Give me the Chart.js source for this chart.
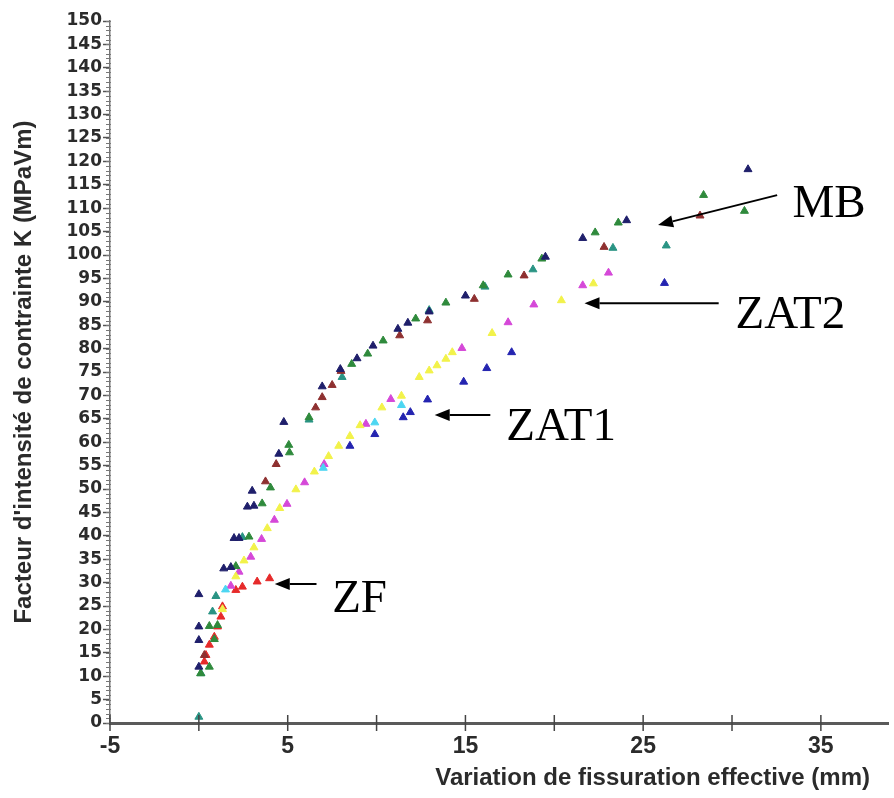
<!DOCTYPE html>
<html>
<head>
<meta charset="utf-8">
<script src="https://cdn.jsdelivr.net/npm/chart.js@4"></script>
<style>
  html, body { margin: 0; padding: 0; background: #fff; }
  #wrap { width: 894px; height: 798px; }
</style>
</head>
<body>
<div id="wrap"><canvas id="kChart" width="894" height="798"></canvas></div>
<script>
// [fissuration (mm), K (MPa√m)]
const mbNavy = [[0,12],[0,17.7],[0,20.6],[0,27.5],[1.4,33],[1.8,33.3],[1.98,39.5],[2.26,39.5],[2.73,46.2],[3.1,46.4],[3.0,49.6],[4.5,57.5],[4.78,64.3],[6.94,71.9],[7.96,75.6],[8.9,77.9],[9.8,80.6],[11.2,84.2],[11.76,85.5],[12.96,87.9],[15.0,91.3],[19.5,99.6],[21.6,103.6],[24.07,107.4],[30.9,118.3]];
const mbGreen = [[0.1,10.6],[0.59,12],[0.87,17.9],[0.59,20.7],[1.05,20.9],[2.08,33.5],[2.82,39.8],[3.56,46.9],[4.03,50.3],[5.1,57.8],[5.06,59.4],[6.2,65.3],[8.6,76.7],[9.5,78.9],[10.37,81.7],[12.2,86.4],[13.9,89.8],[16.0,93.5],[17.4,95.8],[19.3,99.2],[22.3,104.8],[23.6,106.9],[28.4,112.8],[30.7,109.4]];
const mbDarkRed = [[0.31,14.5],[3.75,51.6],[4.35,55.3],[6.57,67.4],[6.94,69.6],[7.5,72.2],[8.0,75.2],[11.3,82.8],[12.87,86],[15.5,90.6],[18.3,95.6],[22.8,101.7],[28.2,108.4]];
const mbTeal = [[0,1.3],[0.12,10.6],[0.77,23.8],[0.96,27.1],[2.45,39.7],[6.2,64.8],[8.06,73.9],[12.96,88.2],[16.1,93.2],[18.8,96.9],[23.3,101.5],[26.3,102]];
const zat1Blue = [[8.5,59.2],[9.9,61.7],[11.5,65.3],[11.9,66.4],[12.87,69.1],[14.9,72.9],[16.2,75.8],[17.6,79.2],[26.2,94.0]];
const zat1Cyan = [[1.5,28.5],[7.0,54.5],[9.9,64.2],[11.4,67.9]];
const zat2Yellow = [[1.33,24.3],[2.08,31.3],[2.54,34.7],[3.1,37.5],[3.85,41.6],[4.55,45.9],[5.46,49.9],[6.5,53.7],[7.3,57],[7.87,59.2],[8.5,61.3],[9.07,63.6],[10.3,67.4],[11.4,69.9],[12.4,73.9],[12.96,75.3],[13.4,76.4],[13.9,77.8],[14.26,79.2],[16.5,83.3],[20.4,90.3],[22.2,93.9]];
const zat2Magenta = [[1.8,29.3],[2.26,32.3],[2.92,35.5],[3.53,39.3],[4.25,43.4],[4.96,46.8],[5.95,51.4],[7.05,55.3],[9.4,63.9],[10.8,69.2],[14.8,80.1],[17.4,85.6],[18.85,89.4],[21.6,93.5],[23.05,96.2]];
const zfRed = [[0.31,13.1],[0.4,14.5],[0.59,16.7],[0.87,18.4],[1.05,20.6],[1.24,22.7],[1.33,24.9],[2.08,28.4],[2.45,29.1],[3.28,30.2],[3.98,30.9]];

// x ticks every 5 mm, labelled every 10 from -5
const xTickValues = [-5, 0, 5, 10, 15, 20, 25, 30, 35];

// zone labels: text anchor and arrow (tail -> head), in data units
const zoneLabels = [
    { text: 'MB',   at: [33.4, 108.1], from: [32.54, 112.8], to: [25.84, 106.4] },
    { text: 'ZAT2', at: [30.2, 84.4],  from: [29.25, 89.7],  to: [21.7, 89.7] },
    { text: 'ZAT1', at: [17.3, 60.5],  from: [16.4, 65.8],   to: [13.27, 65.8] },
    { text: 'ZF',   at: [7.5, 23.7],   from: [6.62, 29.7],   to: [4.27, 29.7] }
];

const xMin = -5, xMax = 38.8, yMin = 0, yMax = 150;

function series(pairs, color) {
    return {
        data: pairs.map(p => ({ x: p[0], y: p[1] })),
        pointStyle: 'triangle',
        pointRadius: 4.6,
        pointBorderWidth: 1,
        backgroundColor: color,
        borderColor: color,
        showLine: false
    };
}

// extra axis decorations: minor ticks, crossing x ticks, titles, zone arrows
const decor = {
    id: 'decor',
    afterDraw(chart) {
        const ctx = chart.ctx;
        const xs = chart.scales.x, ys = chart.scales.y;
        const area = chart.chartArea;
        ctx.save();

        // y minor ticks (ruler)
        ctx.strokeStyle = '#777';
        ctx.lineWidth = 1;
        for (let v = yMin; v <= yMax; v++) {
            const py = Math.round(ys.getPixelForValue(v)) + 0.5;
            ctx.beginPath();
            ctx.moveTo(area.left - 4, py);
            ctx.lineTo(area.left + 1, py);
            ctx.stroke();
        }

        // x ticks crossing the axis
        ctx.strokeStyle = '#444';
        ctx.lineWidth = 1.5;
        xTickValues.forEach(v => {
            const px = xs.getPixelForValue(v);
            ctx.beginPath();
            ctx.moveTo(px, area.bottom - 8);
            ctx.lineTo(px, area.bottom + 8);
            ctx.stroke();
        });

        // x title
        ctx.fillStyle = '#2b2b2b';
        ctx.font = 'bold 24px "Liberation Sans", Arial, sans-serif';
        ctx.textAlign = 'right';
        ctx.textBaseline = 'middle';
        ctx.fillText('Variation de fissuration effective (mm)', 870, 778);

        // zone labels and arrows
        ctx.fillStyle = '#000';
        ctx.strokeStyle = '#000';
        ctx.textAlign = 'left';
        ctx.textBaseline = 'alphabetic';
        ctx.font = '47px "Liberation Serif", "Times New Roman", serif';
        zoneLabels.forEach(z => {
            ctx.fillText(z.text, xs.getPixelForValue(z.at[0]), ys.getPixelForValue(z.at[1]));
            const x1 = xs.getPixelForValue(z.from[0]), y1 = ys.getPixelForValue(z.from[1]);
            const x2 = xs.getPixelForValue(z.to[0]), y2 = ys.getPixelForValue(z.to[1]);
            const ang = Math.atan2(y2 - y1, x2 - x1);
            const hl = 15, hw = 6;
            const bx = x2 - hl * Math.cos(ang), by = y2 - hl * Math.sin(ang);
            ctx.lineWidth = 2;
            ctx.beginPath();
            ctx.moveTo(x1, y1);
            ctx.lineTo(bx, by);
            ctx.stroke();
            ctx.beginPath();
            ctx.moveTo(x2, y2);
            ctx.lineTo(bx + hw * Math.sin(ang), by - hw * Math.cos(ang));
            ctx.lineTo(bx - hw * Math.sin(ang), by + hw * Math.cos(ang));
            ctx.closePath();
            ctx.fill();
        });

        ctx.restore();
    }
};

const chart = new Chart(document.getElementById('kChart'), {
    type: 'scatter',
    data: {
        datasets: [
            series(mbNavy, '#1f1f6b'),
            series(mbGreen, '#2f8a3c'),
            series(mbDarkRed, '#8e3030'),
            series(mbTeal, '#2a9484'),
            series(zat1Blue, '#2424b0'),
            series(zat1Cyan, '#4cd6f2'),
            series(zat2Yellow, '#f2f24a'),
            series(zat2Magenta, '#d548d8'),
            series(zfRed, '#e62a2a')
        ]
    },
    options: {
        responsive: false,
        animation: false,
        layout: { padding: { top: 21, right: 0, left: 0, bottom: 0 } },
        plugins: {
            legend: { display: false },
            tooltip: { enabled: false }
        },
        scales: {
            x: {
                type: 'linear',
                min: xMin,
                max: xMax,
                afterFit: s => { s.height = 75; },
                afterBuildTicks: s => {
                    s.ticks = xTickValues.map(v => ({ value: v }));
                },
                ticks: {
                    autoSkip: false,
                    maxRotation: 0,
                    padding: 10,
                    color: '#2b2b2b',
                    font: { family: '"Liberation Sans", Arial, sans-serif', size: 23, weight: 'bold' },
                    callback: v => ((v + 5) % 10 === 0 ? String(v) : '')
                },
                grid: { display: false, drawTicks: false },
                border: { display: true, color: '#5a5a5a', width: 3 }
            },
            y: {
                type: 'linear',
                min: yMin,
                max: yMax,
                afterFit: s => { s.width = 110; },
                ticks: {
                    stepSize: 5,
                    padding: 1,
                    color: '#2b2b2b',
                    font: { family: '"DejaVu Sans", sans-serif', size: 17, weight: 'bold' }
                },
                grid: { drawOnChartArea: false, drawTicks: true, tickLength: 7, color: '#555', tickWidth: 1.5 },
                border: { display: true, color: '#777', width: 1.5 },
                title: {
                    display: true,
                    text: "Facteur d'intensité de contrainte K (MPaVm)",
                    color: '#2b2b2b',
                    font: { family: '"Liberation Sans", Arial, sans-serif', size: 24, weight: 'bold' },
                    padding: { top: 10, bottom: 0 }
                }
            }
        }
    },
    plugins: [decor]
});
</script>
</body>
</html>
